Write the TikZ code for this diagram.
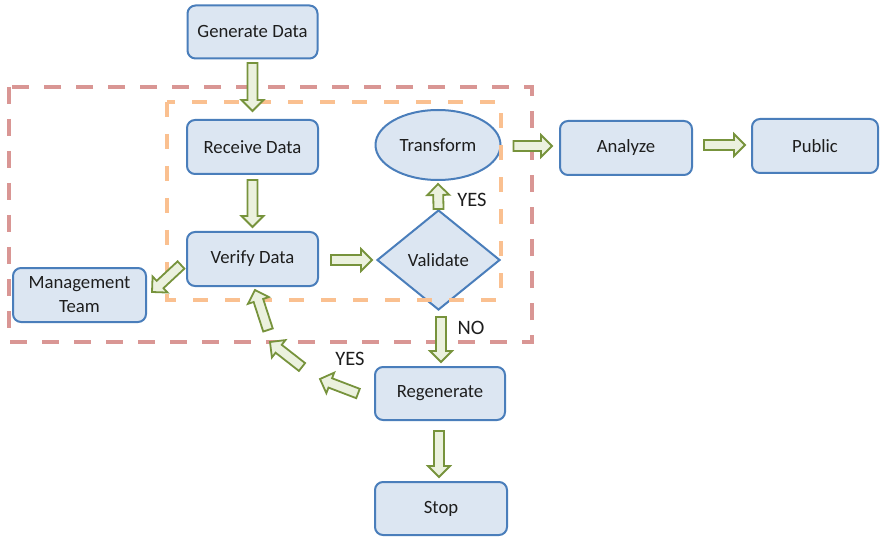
\documentclass[tikz,border=0pt]{standalone}
\usepackage{fontspec}
\setmainfont{Carlito}
\usetikzlibrary{calc,shapes.geometric}
\definecolor{nodefill}{RGB}{220,230,242}
\definecolor{nodeline}{RGB}{74,126,187}
\definecolor{arrline}{RGB}{119,147,60}
\definecolor{arrfill}{RGB}{235,241,222}
\definecolor{reddash}{RGB}{217,150,148}
\definecolor{orangedash}{RGB}{250,192,144}
\definecolor{txtcol}{RGB}{30,30,30}
\newcommand\arrSW{5pt}
\newcommand\arrHW{11pt}
\newcommand\arrHL{11pt}
\newcommand\barrow[2]{%
  \filldraw[blockarrow] ($(#1)!\arrSW!90:(#2)$)
   -- ($(#2)!\arrHL!(#1)!\arrSW!-90:(#1)$)
   -- ($(#2)!\arrHL!(#1)!\arrHW!-90:(#1)$)
   -- (#2)
   -- ($(#2)!\arrHL!(#1)!\arrHW!90:(#1)$)
   -- ($(#2)!\arrHL!(#1)!\arrSW!90:(#1)$)
   -- ($(#1)!\arrSW!-90:(#2)$) -- cycle;}
\begin{document}
\begin{tikzpicture}[x=1pt,y=-1pt,
  box/.style={draw=nodeline, fill=nodefill, line width=2pt, rounded corners=8pt,
    minimum width=130pt, minimum height=54pt, inner sep=2pt, text=txtcol,
    font=\fontsize{18.7}{24}\selectfont},
  ellbox/.style={box, ellipse, rounded corners=0pt, inner sep=0pt},
  diabox/.style={box, diamond, rounded corners=0pt, inner sep=0pt, aspect=1.23},
  lbl/.style={text=txtcol, font=\fontsize{20.5}{24}\selectfont, inner sep=0pt},
  blockarrow/.style={draw=arrline, fill=arrfill, line width=1.8pt, line join=miter},
  reddashed/.style={draw=reddash, line width=3.5pt, dash pattern=on 17pt off 15pt},
  orangedashed/.style={draw=orangedash, line width=3.5pt, dash pattern=on 15pt off 17pt}]
\useasboundingbox (0,0) rectangle (880,537);

% nodes
\node[box, minimum height=53pt] (gen) at (252.5,32) {Generate Data};
\node[box, minimum width=131pt] (rec) at (252.5,147) {Receive Data};
\node[box, minimum width=131pt] (ver) at (252.5,259) {Verify Data};
\node[box, minimum width=133pt, align=center] (mgmt) at (79.5,295) {Management\\Team};
\node[ellbox, minimum width=125pt, minimum height=70pt] (trans) at (438,145) {\raisebox{-2pt}{Transform}};
\node[diabox, minimum width=123pt, minimum height=100pt] (val) at (438.5,260) {Validate};
\node[box, minimum width=132pt] (ana) at (626,148) {Analyze};
\node[box, minimum width=126pt] (pub) at (815,146) {Public};
\node[box, minimum height=53pt] (regen) at (440,393.5) {Regenerate};
\node[box, minimum width=132pt, minimum height=53pt] (stop) at (441,508.5) {Stop};

% labels
\node[lbl] (yes1) at (472,200) {YES};
\node[lbl] (no) at (471,328) {NO};
\node[lbl] (yes2) at (350,359) {YES};

% arrow end points
\coordinate (g1) at ($(gen.south)+(0,3.5)$);
\coordinate (g2) at ($(rec.north)+(0,-8)$);
\coordinate (r1) at ($(rec.south)+(0,5)$);
\coordinate (r2) at ($(ver.north)+(0,-4)$);
\coordinate (v1) at ($(ver.east)+(12,1)$);
\coordinate (v2) at ($(val.west)+(-4,0)$);
\coordinate (t1) at (val.north);
\coordinate (t2) at ($(trans.south)+(0,3)$);
\coordinate (an1) at ($(trans.east)+(12,1)$);
\coordinate (an2) at ($(ana.west)+(-7,-2)$);
\coordinate (p1) at ($(ana.east)+(11,-3)$);
\coordinate (p2) at ($(pub.west)+(-6,-1)$);
\coordinate (n1) at ($(val.south)+(2.5,6)$);
\coordinate (n2) at ($(regen.north)+(1,-4)$);
\coordinate (s1) at ($(regen.south)+(-1,10)$);
\coordinate (s2) at ($(stop.north)+(-2,-4)$);
\coordinate (m1) at ($(ver.west)+(-5,6)$);
\coordinate (m2) at ($(mgmt.east)+(5,-3)$);
\coordinate (y1) at ($(regen.west)+(-16,0)$);
\coordinate (y2) at (320,379);
\coordinate (y3) at (302,367);
\coordinate (y4) at (270,342);
\coordinate (y5) at (268,330);
\coordinate (y6) at ($(ver.south)+(2.5,3)$);

% dashed groups
\draw[reddashed] (9,87) rectangle (532,342);
\draw[orangedashed] (167,102) rectangle (501,300);

% block arrows
\barrow{g1}{g2}
\barrow{r1}{r2}
\barrow{v1}{v2}
\barrow{t1}{t2}
\barrow{an1}{an2}
\barrow{p1}{p2}
\barrow{n1}{n2}
\barrow{s1}{s2}
\barrow{m1}{m2}
\barrow{y1}{y2}
\barrow{y3}{y4}
\barrow{y5}{y6}
\end{tikzpicture}
\end{document}
